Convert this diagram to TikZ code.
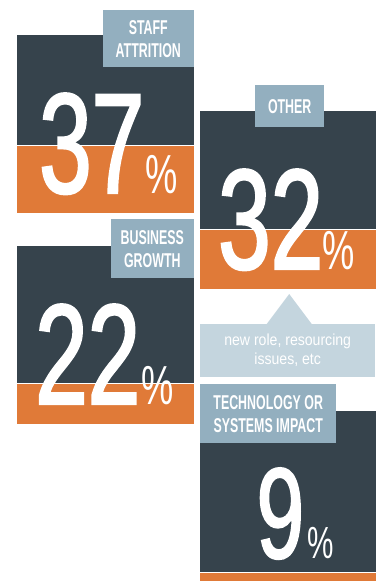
\documentclass[tikz,border=0pt]{standalone}
\usepackage{fontspec}
\usepackage{xcolor}
\usetikzlibrary{positioning}

\newfontfamily\numfont[FakeStretch=0.66, FakeBold=1.5]{Liberation Sans}
\newfontfamily\pctfont[FakeStretch=0.66]{Liberation Sans}
\newfontfamily\capfont[FakeStretch=0.62]{Liberation Sans}
\newfontfamily\notefont[FakeStretch=0.88]{Liberation Sans}

\definecolor{slate}{HTML}{36434C}
\definecolor{rust}{HTML}{E07A38}
\definecolor{steel}{HTML}{93AFBF}
\definecolor{mist}{HTML}{C4D5DE}

\begin{document}
\begin{tikzpicture}[x=1pt, y=-1pt,
    panel/.style={rectangle, fill=slate, inner sep=0pt, anchor=north west},
    bar/.style={rectangle, fill=rust, inner sep=0pt},
    tag/.style={rectangle, fill=steel, inner sep=0pt, align=center, text=white, font=\capfont\bfseries\fontsize{20}{23}\selectfont},
    num/.style={inner sep=0pt, text=white, font=\numfont\fontsize{143}{143}\selectfont},
    pct/.style={inner sep=0pt, text=white, font=\pctfont\fontsize{55}{55}\selectfont},
    note/.style={rectangle, fill=mist, inner sep=0pt, align=center, text=white, font=\notefont\fontsize{16}{19}\selectfont}]

    \useasboundingbox (0,0) rectangle (376,581);

    % staff attrition
    \node[panel, minimum width=177pt, minimum height=110pt] (S1) at (17,35) {};
    \node[bar, minimum width=177pt, minimum height=67pt, below=0pt of S1] (B1) {};
    \node[tag, minimum width=91pt, minimum height=57pt, anchor=north east] (T1) at (194,10) {STAFF\\ATTRITION};
    \node[num, anchor=base west] (N1) at (39,193) {37};
    \node[pct, right=1pt of N1.base east, anchor=base west] (P1) {\%};

    % business growth
    \node[panel, minimum width=177pt, minimum height=137pt] (S2) at (17,246) {};
    \node[bar, minimum width=177pt, minimum height=40pt, below=0pt of S2] (B2) {};
    \node[tag, minimum width=83pt, minimum height=59pt, anchor=north east] (T2) at (194,219) {BUSINESS\\GROWTH};
    \node[num, anchor=base west] (N2) at (35,404) {22};
    \node[pct, right=1pt of N2.base east, anchor=base west] (P2) {\%};

    % other
    \node[panel, minimum width=176pt, minimum height=118pt] (S3) at (200,111) {};
    \node[bar, minimum width=176pt, minimum height=59pt, below=0pt of S3] (B3) {};
    \node[tag, minimum width=69pt, minimum height=42pt, anchor=north west] (T3) at (255,85) {OTHER};
    \node[num, anchor=base west] (N3) at (218,269) {32};
    \node[pct, right=-1pt of N3.base east, anchor=base west] (P3) {\%};
    \node[note, minimum width=175pt, minimum height=53pt, anchor=north west] (C3) at (200,324) {new role, resourcing\\issues, etc};
    \fill[mist] ([xshift=-21pt]C3.north) -- ([xshift=1.5pt, yshift=30pt]C3.north) -- ([xshift=24pt]C3.north) -- cycle;

    % technology
    \node[panel, minimum width=176pt, minimum height=161pt] (S4) at (200,411) {};
    \node[bar, minimum width=176pt, minimum height=9pt, below=0pt of S4] (B4) {};
    \node[tag, minimum width=136pt, minimum height=59pt, anchor=north west] (T4) at (200,384) {TECHNOLOGY OR\\SYSTEMS IMPACT};
    \node[num, font=\numfont\fontsize{129}{129}\selectfont, anchor=base west] (N4) at (256.5,558) {9};
    \node[pct, font=\pctfont\fontsize{45}{45}\selectfont, right=3pt of N4.base east, anchor=base west] (P4) {\%};

\end{tikzpicture}
\end{document}
